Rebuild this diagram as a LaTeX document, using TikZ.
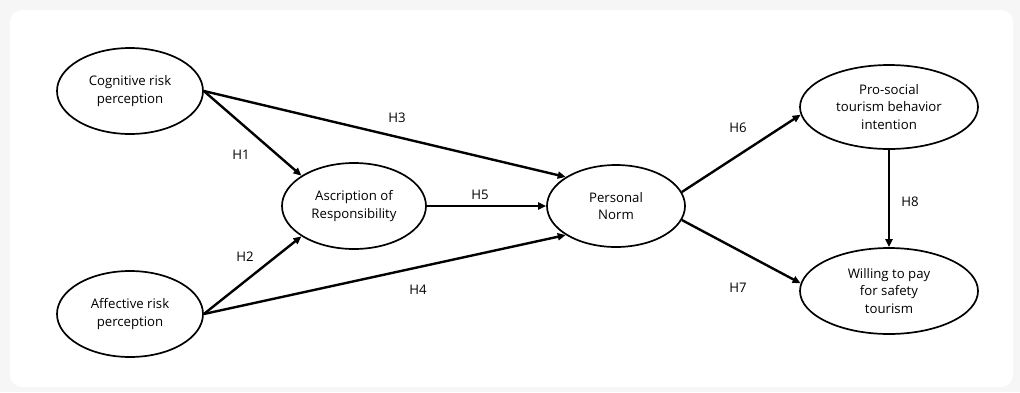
\documentclass[tikz,border=0pt]{standalone}
\usepackage{fontspec}
\setmainfont{Open Sans}
\usetikzlibrary{shapes.geometric,arrows.meta}

\begin{document}
\begin{tikzpicture}[x=1pt,y=-1pt,
  every node/.style={font=\fontsize{13.2}{17.5}\selectfont,align=center,inner sep=0pt},
  var/.style={ellipse,draw,line width=1.7pt,minimum width=146pt,minimum height=86pt},
  arr/.style={line width=2.4pt,-{Triangle[length=8pt,width=7pt]}}]
\useasboundingbox (0,0) rectangle (1020,392);
\fill[gray!7] (0,0) rectangle (1020,392);
\fill[white,rounded corners=12pt] (10,10) rectangle (1013,387);

% constructs
\node (cog) [var] at (130,91) {Cognitive risk\\perception};
\node (aff) [var] at (130,314) {Affective risk\\perception};
\node (asc) [var,minimum width=144pt] at (354,206) {Ascription of\\Responsibility};
\node (pn) [var,minimum width=138pt,minimum height=82pt] at (616,206) {Personal\\Norm};
\node (pro) [var,minimum width=178pt,minimum height=84pt] at (889,107) {Pro-social\\tourism behavior\\intention};
\node (will) [var,minimum width=178pt,minimum height=86pt] at (889,291) {Willing to pay\\for safety\\tourism};

% paths
\draw[arr] (cog.east) -- (asc.150);
\draw[arr] (aff.east) -- (asc.210);
\draw[arr] (cog.east) -- (pn.150);
\draw[arr] (aff.east) -- (pn.210);
\draw[arr] (asc.east) -- (pn.west);
\draw[arr] (pn.12) -- (pro.185);
\draw[arr] (pn.-12) -- (will.175);
\draw[arr] (pro.south) -- (will.north);

% hypotheses
\node (h1) at (241,155) {H1};
\node (h2) at (245,257) {H2};
\node (h3) at (397,118) {H3};
\node (h4) at (418,290) {H4};
\node (h5) at (480,195) {H5};
\node (h6) at (738,128) {H6};
\node (h7) at (738,288) {H7};
\node (h8) at (910,202) {H8};
\end{tikzpicture}
\end{document}
